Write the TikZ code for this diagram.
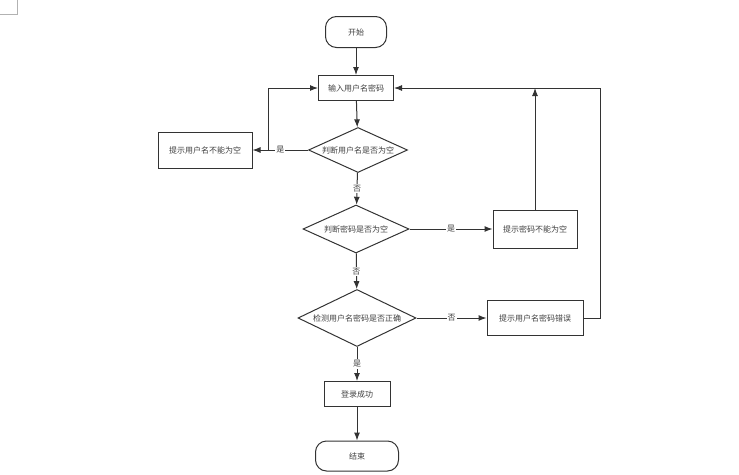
\documentclass[tikz,border=0pt]{standalone}
\usepackage{fontspec}
\newfontfamily\cjk{Noto Sans CJK SC}
\usetikzlibrary{shapes.geometric,arrows.meta}

\begin{document}
\begin{tikzpicture}[x=1pt, y=-1pt,
    base/.style={draw=black!80, line width=1pt, font=\cjk\fontsize{8}{10}\selectfont,
      text=black!75, inner sep=0pt},
    terminal/.style={base, rectangle, rounded corners=11pt},
    process/.style={base, rectangle},
    decision/.style={base, diamond},
    flow/.style={draw=black!80, line width=1pt, -{Latex[length=8pt,width=6pt]}},
    tag/.style={fill=white, text=black!75, font=\cjk\fontsize{8}{10}\selectfont, inner sep=1pt}]
  \useasboundingbox (0,0) rectangle (739,474);
  \draw[black!30, line width=0.6pt] (0,14) -- (17,14) -- (17,0);

  % main column
  \node[terminal, minimum width=61pt, minimum height=31pt] (start) at (356,32) {开始};
  \node[process, minimum width=75pt, minimum height=25pt] (input) at (356,88) {输入用户名密码};
  \node[decision, aspect=2.2, minimum width=99pt, minimum height=45pt] (chkname) at (358,150) {判断用户名是否为空};
  \node[decision, aspect=2.2, minimum width=106pt, minimum height=48pt] (chkpwd) at (356,229) {判断密码是否为空};
  \node[decision, aspect=2.07, minimum width=118pt, minimum height=57pt] (chkall) at (357,318) {检测用户名密码是否正确};
  \node[process, minimum width=66pt, minimum height=25pt] (ok) at (357,394) {登录成功};
  \node[terminal, minimum width=83pt, minimum height=30pt] (stop) at (357,456) {结束};

  % side boxes
  \node[process, minimum width=94pt, minimum height=36pt] (nameempty) at (205,150) {提示用户名不能为空};
  \node[process, minimum width=84pt, minimum height=38pt] (pwdempty) at (535,229) {提示密码不能为空};
  \node[process, minimum width=96pt, minimum height=35pt] (wrong) at (535,318) {提示用户名密码错误};

  \coordinate (bendL) at (268,150);
  \coordinate (bendR) at (600,88);

  \draw[flow] (start) -- (input);
  \draw[flow] (input) -- (chkname);
  \draw[flow] (chkname) -- node[tag] {否} (chkpwd);
  \draw[flow] (chkpwd) -- node[tag] {否} (chkall);
  \draw[flow] (chkall) -- node[tag] {是} (ok);
  \draw[flow] (ok) -- (stop);

  \draw[flow] (chkname.west) -- node[tag] {是} (nameempty.east);
  \draw[flow] (bendL) |- (input.west);
  \draw[flow] (chkpwd.east) -- node[tag] {是} (pwdempty.west);
  \draw[flow] (pwdempty.north) -- (pwdempty.north |- bendR);
  \draw[flow] (chkall.east) -- node[tag] {否} (wrong.west);
  \draw[flow] (wrong.east) -| (bendR) -- (input.east);
\end{tikzpicture}
\end{document}
